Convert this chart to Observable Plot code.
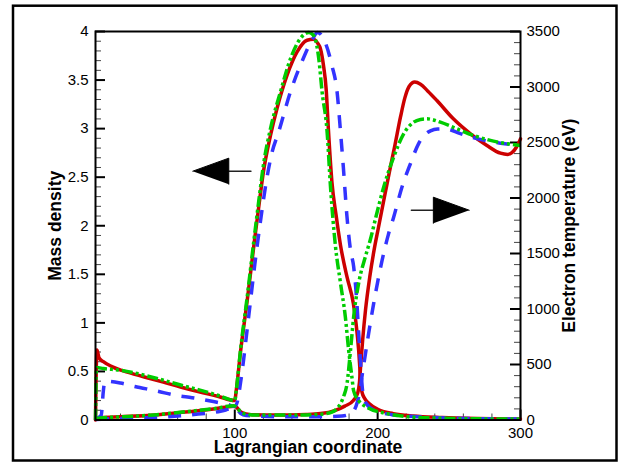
<!DOCTYPE html>
<html><head><meta charset="utf-8">
<script src="https://cdn.jsdelivr.net/npm/d3@7"></script>
<script src="https://cdn.jsdelivr.net/npm/@observablehq/plot@0.6"></script>
<style>body{margin:0;background:#fff}#chart{width:622px;height:464px}</style>
</head><body><div id="chart"></div>
<script>
// ---- data: [Lagrangian coordinate, value] ----
const redDensity = [[2.5,0],[3.5,0.72],[5,0.64],[8,0.6],[14,0.55],[21,0.51],[30,0.47],[40,0.43],[50,0.39],[62,0.34],[75,0.29],[88,0.245],[100,0.2],
 [101,0.3],[104,0.7],[108.7,1.23],[113.8,1.85],[117,2.22],[120,2.55],[125,2.93],[129.6,3.21],[136.6,3.55],[143.6,3.79],[150.6,3.91],[155,3.92],[158,3.88],[160,3.82],[162,3.66],[164,3.4],[165.5,3.0],[168,2.45],[171,2.1],[174,1.8],[178.6,1.47],[183,1.2],[185,0.98],[186.7,0.72],[188,0.44],[189,0.29],[191,0.22],[194,0.17],[200,0.11],[211,0.065],[225,0.04],[245,0.025],[270,0.015],[300,0.01]];
const greenDensity = [[2.5,0],[3.2,0.54],[8,0.53],[21,0.51],[37,0.46],[50,0.41],[62,0.36],[75,0.31],[88,0.255],[100,0.2],
 [101,0.3],[104,0.72],[108.7,1.27],[113.8,1.9],[117,2.28],[120,2.62],[125,3.0],[132,3.38],[139,3.72],[146,3.93],[151.7,3.99],[154.5,3.97],[156.4,3.92],[158.8,3.72],[161.1,3.38],[164.6,2.97],[167,2.4],[170.4,1.8],[174,1.41],[177.4,1.06],[179.7,0.72],[182,0.44],[183.2,0.3],[186.7,0.2],[192.6,0.13],[206.6,0.066],[220,0.035],[240,0.02],[270,0.012],[300,0.01]];
const blueDensity = [[2.5,0],[4,0.02],[6.5,0.05],[8,0.3],[9,0.4],[20,0.38],[30,0.345],[45,0.3],[60,0.25],[70,0.23],[85,0.19],[95,0.16],[100,0.14],
 [102,0.2],[104,0.38],[106,0.6],[108,0.85],[110,1.1],[114,1.6],[118,2.05],[122,2.45],[126,2.75],[130.8,2.97],[139,3.38],[147,3.69],[154,3.91],[158,3.99],[163.5,3.88],[168,3.65],[171.6,3.38],[174,2.97],[176,2.6],[178.5,2.1],[181,1.75],[183.2,1.58],[185.5,1.2],[186.7,0.9],[188,0.6],[189.5,0.3],[192,0.17],[199,0.09],[210,0.055],[225,0.035],[250,0.02],[300,0.01]];

const redTemp = [[3,15],[6,22],[20,30],[38.7,40],[62,68],[85,100],[99.5,125],[101,118],[104,75],[108,55],[112,48],[128,45],[150,50],[160,58],[170,85],[177,125],[183,176],[186,240],[187.3,340],[188,470],[189.5,720],[191.5,990],[194.5,1290],[197.5,1530],[200.5,1730],[204,1960],[208,2220],[212,2470],[216,2730],[219,2900],[222,3005],[226,3045],[230,3025],[235,2965],[241.5,2878],[253,2713],[265,2578],[276.5,2473],[286,2404],[291,2393],[294,2408],[297,2455],[300,2533]];
const greenTemp = [[3,10],[6,18],[20,28],[40,42],[62,70],[85,102],[99.5,128],[101.5,112],[104,75],[108,52],[115,44],[140,44],[160,52],[168,72],[172,110],[176,206],[178.6,330],[181,627],[183.2,928],[186.7,1232],[191.4,1470],[195,1630],[199,1840],[204.2,2097],[211.2,2368],[218.2,2578],[225.2,2683],[230,2708],[234.5,2713],[243.9,2683],[255.5,2623],[267.2,2563],[281.1,2512],[300,2473]];
const blueTemp = [[3,5],[10,10],[30,18],[50,27],[70,48],[90,78],[99.5,105],[101.5,95],[104,60],[108,40],[130,30],[160,30],[175,36],[182,65],[185,130],[186.7,206],[190,476],[193.7,780],[197.2,1048],[200.7,1288],[204.2,1500],[207.5,1670],[211.2,1827],[217,2097],[222.9,2308],[228.7,2490],[233,2570],[237,2605],[242,2622],[247.4,2623],[257.9,2580],[269.5,2535],[286,2494],[300,2473]];

// ---- axes / labels ----
const xTicks = [100, 200, 300];
const leftTicks = [0, 0.5, 1, 1.5, 2, 2.5, 3, 3.5, 4];
const rightTicks = [0, 500, 1000, 1500, 2000, 2500, 3000, 3500];
const xTitle = "Lagrangian coordinate";
const leftTitle = "Mass density";
const rightTitle = "Electron temperature (eV)";

// annotation arrows [x, density]
const arrowLeftShaft = [[95.8, 2.562], [111.3, 2.562]];
const arrowLeftHead = [[70.6, 2.562], [95.8, 2.696], [95.8, 2.428]];
const arrowRightShaft = [[223.6, 2.16], [239, 2.16]];
const arrowRightHead = [[264.1, 2.16], [239, 2.294], [239, 2.026]];

const T2D = 3500 / 4; // eV per density unit
const W = 622 - 95 - 102, H = 464 - 31 - 44.5;

const xMinor = d3.range(20, 301, 20).filter(v => v % 100 !== 0);
const leftMinor = d3.range(1, 40).map(v => v / 10).filter((v, i) => (i + 1) % 5 !== 0);
const rightMinor = d3.range(100, 3500, 100).filter(v => v % 500 !== 0).map(v => v / T2D);

const RED = "#cc0000", BLUE = "#3333ff", GREEN = "#00cc00";
const dens = (data, stroke, extra) => Plot.line(data, {x: d => d[0], y: d => d[1], stroke, strokeWidth: 3.5, curve: "monotone-x", ...extra});
const temp = (data, stroke, extra) => Plot.line(data, {x: d => d[0], y: d => d[1] / T2D, stroke, strokeWidth: 3.5, curve: "monotone-x", ...extra});
const dashB = {strokeDasharray: "13,11", strokeLinecap: "butt"};
const dashG = {strokeDasharray: "11,3,3,3,3,3", strokeLinecap: "butt"};
const titleStyle = {text: d => d, fontWeight: "bold", fontSize: 17.5, fill: "black", textAnchor: "middle", lineAnchor: "middle"};

const chart = Plot.plot({
  width: 622, height: 464,
  marginLeft: 95, marginRight: 102, marginTop: 31, marginBottom: 44.5,
  style: {fontFamily: "'Liberation Sans', Arial, sans-serif", fontSize: "15px", background: "white", color: "black"},
  x: {domain: [2.5, 300]},
  y: {domain: [0, 4]},
  marks: [
    // minor ticks (inward)
    Plot.ruleY(leftMinor, {insetRight: W - 6, stroke: "#444", strokeWidth: 1}),
    Plot.ruleY(rightMinor, {insetLeft: W - 6, stroke: "#444", strokeWidth: 1}),
    Plot.ruleX(xMinor, {insetTop: H - 6, stroke: "#444", strokeWidth: 1}),
    // major ticks
    Plot.ruleY(leftTicks, {insetRight: W - 10, stroke: "black", strokeWidth: 2}),
    Plot.ruleY(rightTicks.map(t => t / T2D), {insetLeft: W - 10, stroke: "black", strokeWidth: 2}),
    Plot.ruleX(xTicks, {insetTop: H - 10, stroke: "black", strokeWidth: 2}),
    // curves
    dens(redDensity, RED), temp(redTemp, RED),
    dens(blueDensity, BLUE, dashB), temp(blueTemp, BLUE, dashB),
    dens(greenDensity, GREEN, dashG), temp(greenTemp, GREEN, dashG),
    // arrows
    Plot.line(arrowLeftShaft, {x: d => d[0], y: d => d[1], stroke: "#222", strokeWidth: 1.5}),
    Plot.line(arrowLeftHead, {x: d => d[0], y: d => d[1], fill: "black", stroke: "black", strokeWidth: 1}),
    Plot.line(arrowRightShaft, {x: d => d[0], y: d => d[1], stroke: "#222", strokeWidth: 1.5}),
    Plot.line(arrowRightHead, {x: d => d[0], y: d => d[1], fill: "black", stroke: "black", strokeWidth: 1}),
    Plot.frame({stroke: "black", strokeWidth: 2}),
    // axes labels
    Plot.axisX(xTicks, {tickSize: 0, tickPadding: 7, tickFormat: d => String(d), label: null, fontSize: 15}),
    Plot.axisY(leftTicks, {anchor: "left", tickSize: 0, tickPadding: 7, tickFormat: d => String(d), label: null, fontSize: 15}),
    Plot.axisY(rightTicks.map(t => t / T2D), {anchor: "right", tickSize: 0, tickPadding: 6, tickFormat: d => String(Math.round(d * T2D)), label: null, fontSize: 15}),
    // titles
    Plot.text([xTitle], {...titleStyle, frameAnchor: "bottom", dy: 27}),
    Plot.text([leftTitle], {...titleStyle, frameAnchor: "left", dx: -40.5, rotate: -90}),
    Plot.text([rightTitle], {...titleStyle, frameAnchor: "right", dx: 49, rotate: -90})
  ]
});
d3.select(chart).append("rect")
  .attr("x", 13).attr("y", 5.7).attr("width", 603.5).attr("height", 454.8)
  .attr("fill", "none").attr("stroke", "black").attr("stroke-width", 2.5);
document.getElementById("chart").appendChild(chart);
</script></body></html>
